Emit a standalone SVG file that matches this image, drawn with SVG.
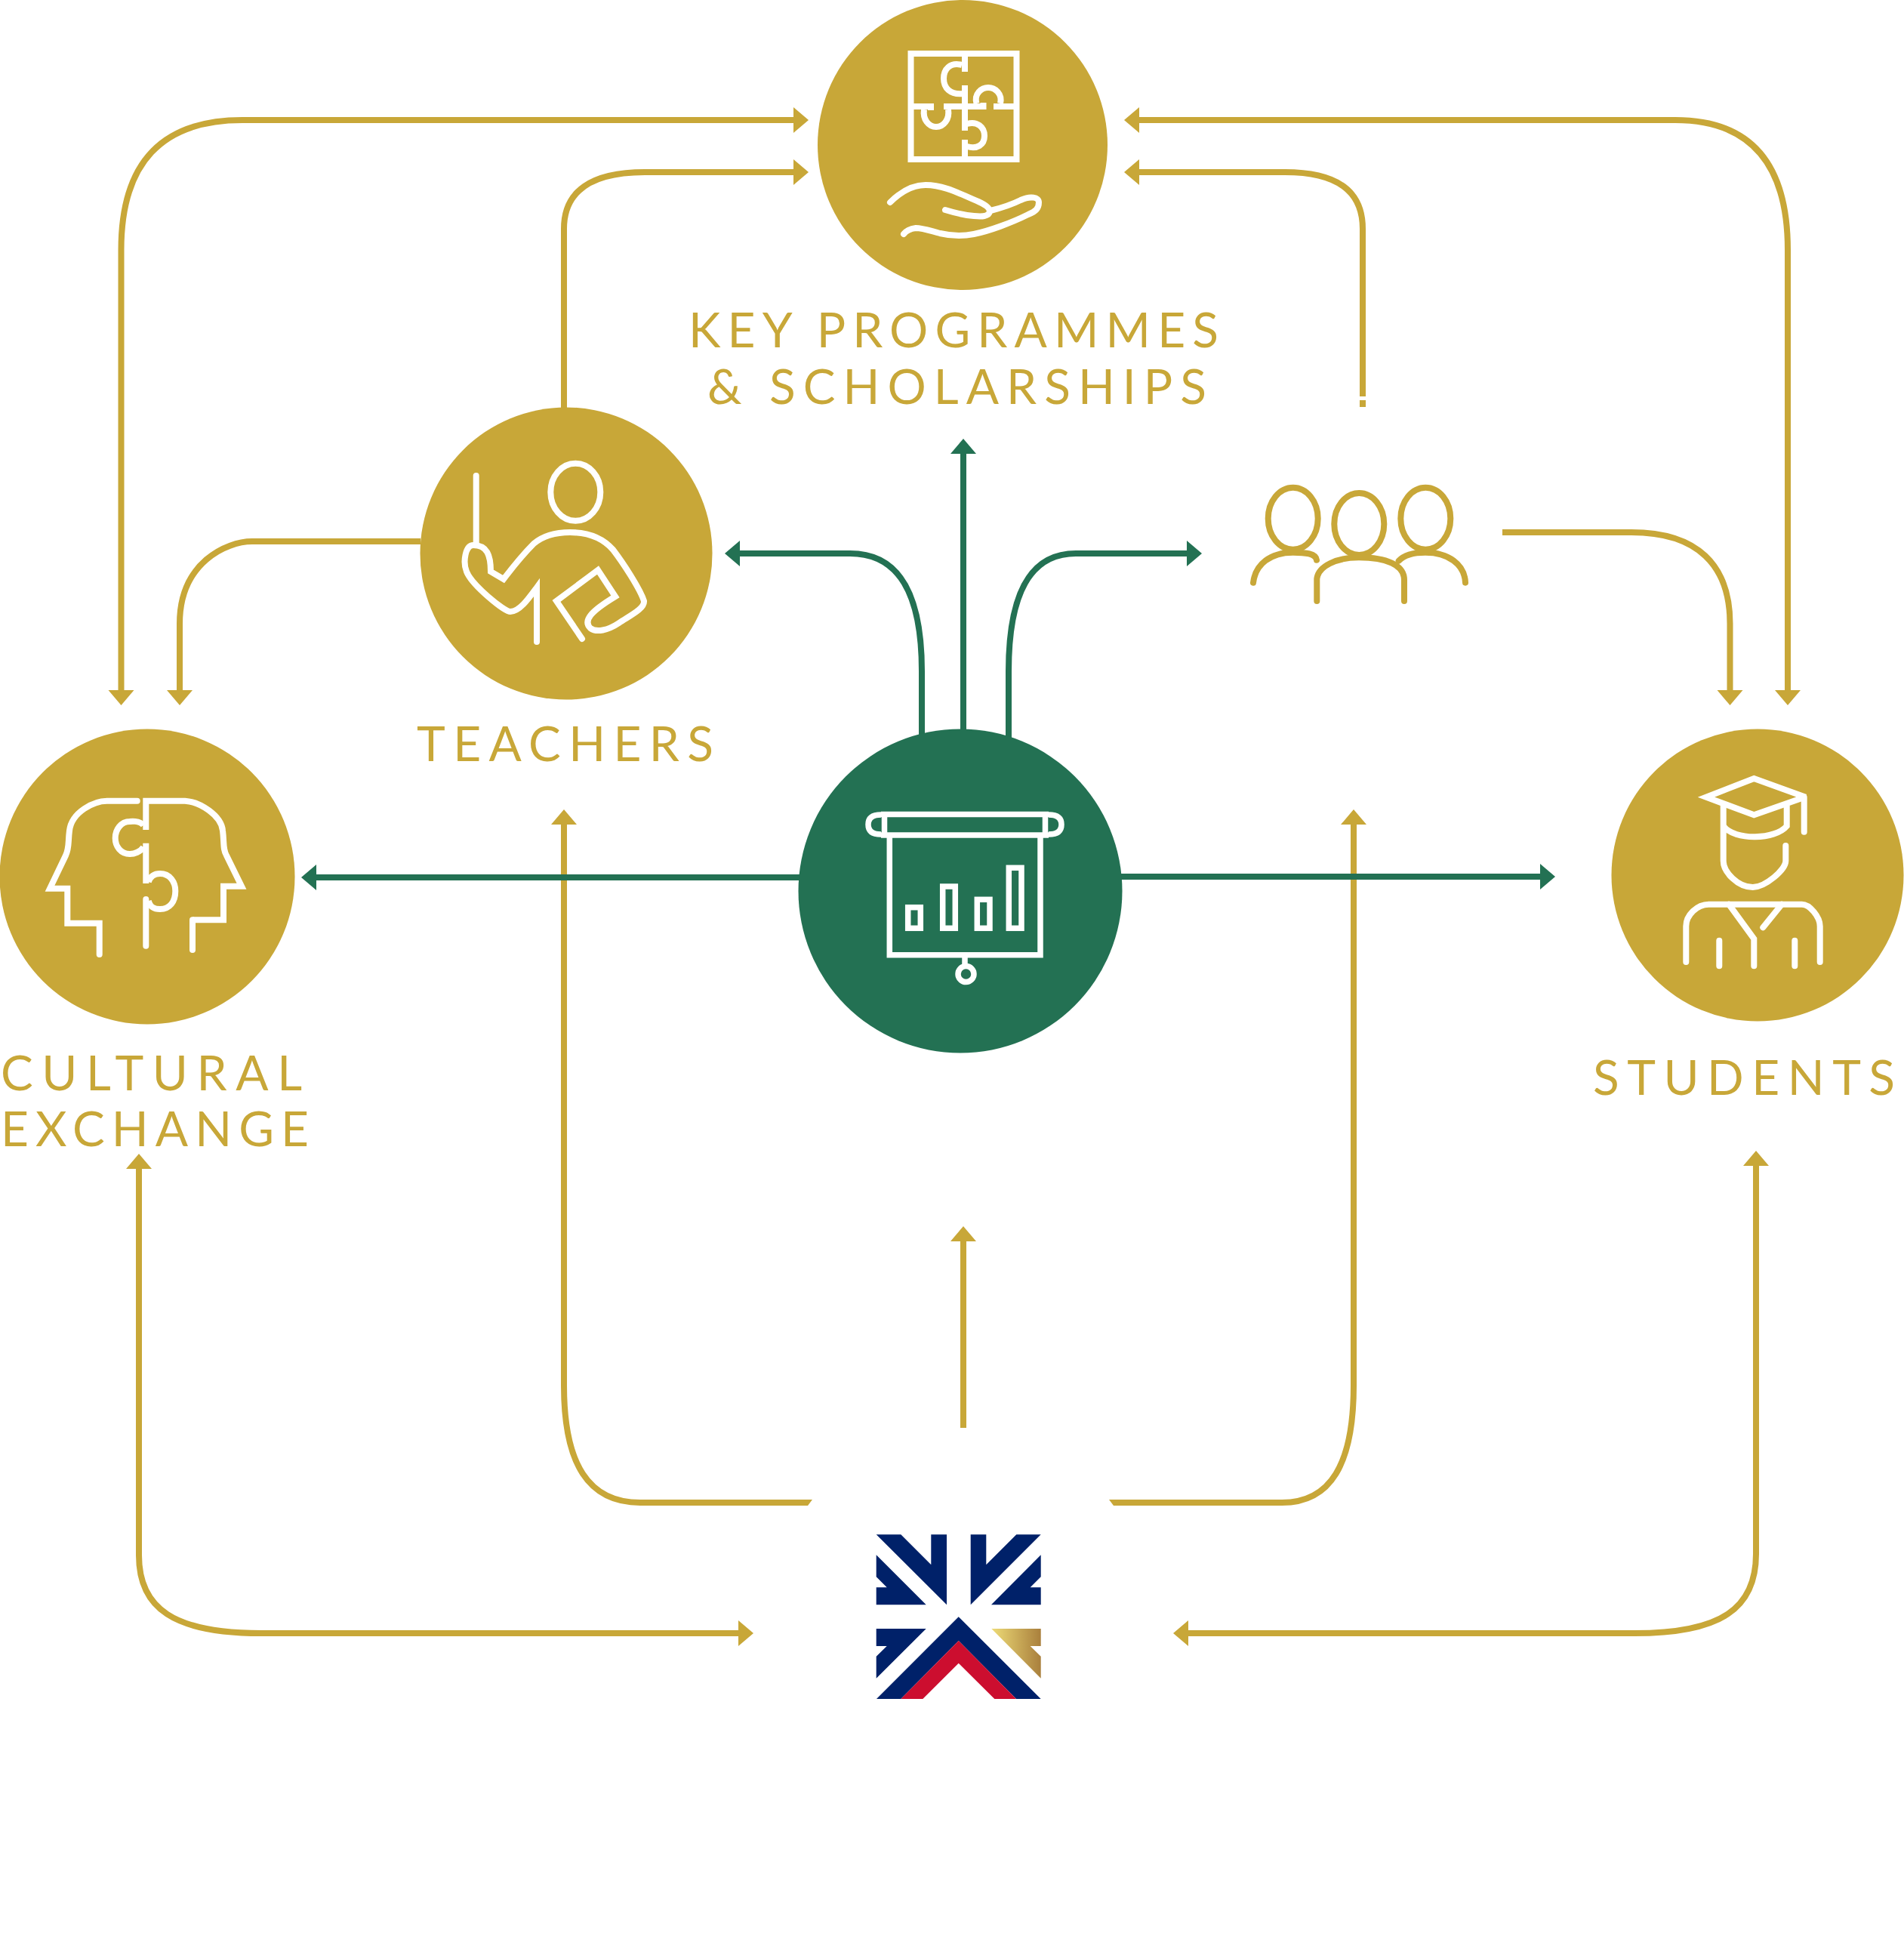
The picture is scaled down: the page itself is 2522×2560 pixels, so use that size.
<svg xmlns="http://www.w3.org/2000/svg" width="2522" height="2560" viewBox="0 0 2522 2560">
<style>
.g{fill:none;stroke:#C8A738;stroke-width:8}
.n{fill:none;stroke:#237153;stroke-width:8}
.ga{marker-end:url(#ag)}
.gb{marker-start:url(#ag);marker-end:url(#ag)}
.na{marker-end:url(#an)}
.gold{fill:#C8A738}
.green{fill:#237153}
.w{fill:none;stroke:#fff;stroke-width:8;stroke-linecap:round;stroke-miterlimit:10}
.wb{fill:none;stroke:#fff;stroke-width:8;stroke-linecap:butt;stroke-miterlimit:10}
.gi{fill:none;stroke:#C8A738;stroke-width:8;stroke-linecap:round}
.t{font-family:"Lato","Liberation Sans",sans-serif;font-size:64px;fill:#C8A738}
.navy{fill:#002169}
.red{fill:#CC0E2F}
</style>
<defs>
<marker id="ag" markerUnits="userSpaceOnUse" markerWidth="22" markerHeight="36" refX="0" refY="18" orient="auto-start-reverse" viewBox="0 0 22 36"><path d="M0,1 L20,18 L0,35 Z" fill="#C8A738"/></marker>
<marker id="an" markerUnits="userSpaceOnUse" markerWidth="22" markerHeight="36" refX="0" refY="18" orient="auto" viewBox="0 0 22 36"><path d="M0,1 L20,18 L0,35 Z" fill="#237153"/></marker>
<linearGradient id="lg" x1="1313" y1="0" x2="1379" y2="0" gradientUnits="userSpaceOnUse"><stop offset="0" stop-color="#EEDC78"/><stop offset="1" stop-color="#A97F3C"/></linearGradient>
</defs>
<g id="connectors">
<path class="g gb" d="M160.500,914 V331 C160.500,216 214,159 321,159 H1051"/>
<path class="g ga" d="M747,540 V303 C747,253 783,228 854,228 H1051"/>
<path class="g ga" d="M557,717 H334 C300,717 238,745 238,826 V914"/>
<path class="g gb" d="M1509,159 H2219 C2318,159 2368,216 2368,331 V914"/>
<path class="g ga" d="M1805,525 V303 C1805,253 1771,228 1702,228 H1509"/>
<rect class="gold" x="1801" y="530" width="8" height="9"/>
<path class="g ga" d="M1990,705 H2161 C2248,705 2291.500,748 2291.500,826 V914"/>
<path class="g ga" d="M747,1700 V1092"/>
<path class="g" d="M747,1700 V1835 C747,1940 780,1990 848,1990 H1070"/>
<polygon class="gold" points="1070,1986 1076,1986 1070,1994"/>
<path class="g ga" d="M1793,1700 V1092"/>
<path class="g" d="M1793,1700 V1835 C1793,1940 1762,1990 1698,1990 H1475"/>
<polygon class="gold" points="1475,1986 1469,1986 1475,1994"/>
<path class="g ga" d="M1276,1891 V1644"/>
<path class="g gb" d="M184,1548 V2060 C184,2130 230,2163 346,2163 H978"/>
<path class="g gb" d="M2326,1544 V2058 C2326,2130 2280,2163 2165,2163 H1574"/>
<path class="n na" d="M1221,975 V889 C1221,785 1190,733 1126,733 H980"/>
<path class="n na" d="M1276,970 V601"/>
<path class="n na" d="M1336,980 V889 C1336,785 1365,733 1425,733 H1572"/>
<path class="n na" d="M1060,1162 H419"/>
<path class="n na" d="M1484,1161 H2040"/>
</g>
<g id="node-key-programmes">
<circle class="gold" cx="1275" cy="192" r="192"/>
<g class="wb">
<rect x="1206.500" y="71" width="140" height="140"/>
<path d="M1278,71 V95 M1278,113 V173 M1278,185 V211"/>
<path d="M1274,86 C1258,82 1250,92 1250,104 C1250,116 1258,126 1276,124"/>
<path d="M1206,141 H1233 V146 M1250,141 H1278 M1278,141 H1302.500 V136 M1320,137 V141 H1346"/>
<path d="M1224,145 C1222,158 1230,168 1240,168 C1250,168 1258,158 1256,145"/>
<path d="M1293.500,137 C1290,124 1300,116 1309,116 C1318,116 1328,124 1325,137"/>
<path d="M1281,164 C1294,160 1304,168 1304,180 C1304,192 1294,198 1281,194"/>
</g>
<path class="w" d="M1179,268 C1195,252 1212,245 1226,245 C1250,245 1270,256 1296,267 C1305,271 1311,275 1311,280 C1310,287 1300,287 1290,286 C1278,285 1265,282 1252,278"/>
<path class="w" d="M1312,279 C1328,275 1340,271 1352,265 C1365,259 1376,261 1376,268 C1376,276 1372,280 1362,284 C1340,295 1310,306 1290,310 C1275,313 1262,313 1245,309 C1230,305 1222,302 1213,302 C1205,303 1200,306 1197,310"/>
<text class="t" x="912" y="460" textLength="702" lengthAdjust="spacing">KEY PROGRAMMES</text>
<text class="t" x="937" y="535" textLength="661" lengthAdjust="spacing">&amp; SCHOLARSHIPS</text>
</g>
<g id="node-teachers">
<circle class="gold" cx="750" cy="733" r="193.500"/>
<ellipse class="w" cx="762.300" cy="651.700" rx="33" ry="38"/>
<path class="w" d="M630.700,630 V720"/>
<path class="w" d="M711,850 V778 C700,793 688,810 676,810 C668,810 625,775 618,757 C613,745 616,722 627,722 C645,722 650,735 650,757 L667,767 C680,750 695,732 707,720 C720,709 735,705 755,705 C780,705 798,712 812,728 C825,745 848,780 853,796 C854,806 835,815 820,825 C805,835 790,838 782,832 C772,822 782,810 815,790 L792,755 L737,796 L771,846"/>
<text class="t" x="552" y="1008" textLength="393" lengthAdjust="spacing">TEACHERS</text>
</g>
<g id="node-cultural-exchange">
<circle class="gold" cx="195" cy="1161" r="195.500"/>
<path class="w" d="M181.700,1060.700 H141.700 C125,1060.700 95,1075 92,1100 C90,1115 92,1122 87,1133 L66,1176.700 H89.300 V1222.700 H131.700 V1264"/>
<path class="wb" d="M193.300,1099 V1060.700 H245 C265,1062 293,1080 295,1100 C297,1115 295,1125 300,1133 L320,1173.700 H296 V1218.300 H255"/>
<path class="w" d="M255,1218.300 V1258"/>
<path class="wb" d="M190,1093 C185,1086 172,1088 172,1088 C160,1088 152.700,1099 152.700,1110 C152.700,1121 160,1131 172,1131 C178,1131 186,1128 190,1122 M193.300,1116.700 V1170 M196.700,1168 C200,1158 208,1157 212,1157 C225,1157 232.300,1168 232.300,1180 C232.300,1194 225,1204 212,1204 C205,1204 199,1202 196.700,1193"/>
<path class="w" d="M193.300,1191 V1252.700"/>
<text class="t" x="1" y="1444" textLength="399" lengthAdjust="spacing">CULTURAL</text>
<text class="t" x="1" y="1518" textLength="408" lengthAdjust="spacing">EXCHANGE</text>
</g>
<g id="node-centre">
<circle class="green" cx="1272" cy="1180" r="214.500"/>
<g class="wb" style="stroke-width:7.500">
<path d="M1167,1078.500 H1389 M1167,1106 H1389 M1171.500,1078 V1106 M1384.500,1078 V1106"/>
<path d="M1167,1079 C1155,1079 1150,1084 1150,1092 C1150,1100 1155,1105 1167,1105"/>
<path d="M1389,1079 C1401,1079 1406,1084 1406,1092 C1406,1100 1401,1105 1389,1105"/>
<path d="M1178.300,1106 V1264.700 H1378 V1106"/>
<rect x="1202.700" y="1201.700" width="16.600" height="27.600"/>
<rect x="1248.700" y="1174" width="16.600" height="55.300"/>
<rect x="1294.300" y="1191.300" width="16.700" height="38"/>
<rect x="1336.300" y="1149.300" width="16.700" height="80"/>
<path d="M1278,1264.700 V1277"/>
<circle cx="1279.500" cy="1290" r="10.500"/>
</g>
</g>
<g id="node-students">
<circle class="gold" cx="2328" cy="1159" r="193.500"/>
<path class="wb" d="M2389.700,1056 L2323.300,1079.300 L2260,1055.700 L2323.300,1031 L2391.700,1055.700"/>
<path class="w" d="M2389.700,1056 V1101.700"/>
<path class="w" d="M2282.700,1067 V1140 C2282.700,1155 2302,1175 2321.700,1175 C2338,1175 2365.300,1152 2365.300,1140 V1120"/>
<path class="wb" d="M2366.700,1067 V1094 C2352,1112 2298,1114 2282.700,1094"/>
<path class="w" d="M2233.300,1274 V1226.700 C2233.300,1212 2248,1197.700 2263.300,1197.700 H2386.700 C2397,1197.700 2410.700,1214 2410.700,1226.700 V1274"/>
<path class="w" d="M2290,1197.700 L2323.300,1243.300 V1279.300 M2360,1197.700 L2335.300,1228.300 M2277.300,1245.700 V1279.300 M2377.300,1245.700 V1279.300"/>
<text class="t" x="2110" y="1450" textLength="400" lengthAdjust="spacing">STUDENTS</text>
</g>
<g id="node-group">
<ellipse class="gi" cx="1712.700" cy="686.700" rx="33" ry="41"/>
<ellipse class="gi" cx="1800.300" cy="694" rx="33" ry="41"/>
<ellipse class="gi" cx="1888.300" cy="686.700" rx="33" ry="41"/>
<path class="gi" d="M1660,771.700 C1663,747 1683,731.700 1712.700,731.700 C1730,731.700 1743,733 1744,741.700"/>
<path class="gi" d="M1744.300,796 V766.700 C1746,750 1770,738.300 1800,738.300 C1836,738.300 1860,748 1860,768 V796"/>
<path class="gi" d="M1852.700,742.700 C1860,735 1873,731.700 1888,731.700 C1918,731.700 1940,747 1941,771.700"/>
</g>
<g id="node-logo">
<polygon class="navy" points="1160.700,2032.300 1193.300,2032.300 1233.300,2072.300 1233.300,2032.300 1254,2032.300 1254,2125.300"/>
<polygon class="navy" points="1160.700,2059.300 1226.700,2125.300 1160.700,2125.300 1160.700,2102.300 1174.700,2102.300 1160.700,2088.300"/>
<polygon class="navy" points="1285.700,2032.300 1306.300,2032.300 1306.300,2072.300 1346.300,2032.300 1378.700,2032.300 1285.700,2125.300"/>
<polygon class="navy" points="1378.700,2059.300 1378.700,2088.300 1364.700,2102.300 1378.700,2102.300 1378.700,2125.300 1313,2125.300"/>
<polygon class="navy" points="1160.700,2157 1226.700,2157 1160.700,2222.700 1160.700,2193.700 1174.700,2180 1160.700,2180"/>
<polygon class="navy" points="1269.700,2141.300 1378.700,2250 1346,2250 1269.700,2173 1193.300,2250 1161,2250"/>
<polygon class="red" points="1269.700,2173 1346,2250 1317.300,2250 1269.700,2202.700 1222.300,2250 1193.300,2250"/>
<polygon fill="url(#lg)" points="1313.300,2157 1378.700,2157 1378.700,2180 1364.700,2180 1378.700,2193.700 1378.700,2222.700"/>
</g>
</svg>
